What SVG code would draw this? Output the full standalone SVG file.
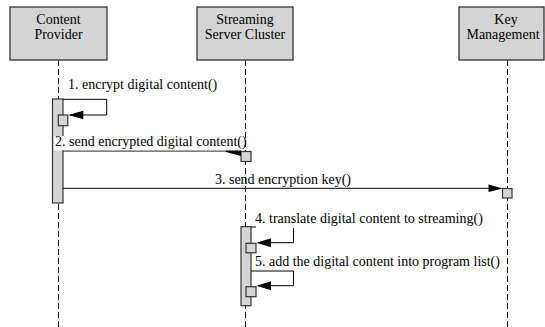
<svg xmlns="http://www.w3.org/2000/svg" width="545" height="327" viewBox="0 0 545 327">
<rect width="545" height="327" fill="#fff"/>
<g id="lifelines" stroke="#111" stroke-width="1" stroke-dasharray="6,3" fill="none">
<line x1="58.5" y1="60" x2="58.5" y2="327"/>
<line x1="245.5" y1="60" x2="245.5" y2="327"/>
<line x1="507.5" y1="60" x2="507.5" y2="327"/>
</g>
<g id="content-provider">
<rect x="10" y="7" width="97" height="53" fill="#d4d4d4" stroke="#333" stroke-width="1.3"/>
<text x="58.5" y="23.5" text-anchor="middle" font-family="Times New Roman, Liberation Serif, serif" font-size="14px">Content</text>
<text x="58.5" y="38.5" text-anchor="middle" font-family="Times New Roman, Liberation Serif, serif" font-size="14px">Provider</text>
</g>
<g id="streaming-server-cluster">
<rect x="197" y="7" width="96" height="53" fill="#d4d4d4" stroke="#333" stroke-width="1.3"/>
<text x="245" y="23.5" text-anchor="middle" font-family="Times New Roman, Liberation Serif, serif" font-size="14px">Streaming</text>
<text x="245" y="38.5" text-anchor="middle" font-family="Times New Roman, Liberation Serif, serif" font-size="14px">Server Cluster</text>
</g>
<g id="key-management">
<rect x="459" y="7" width="85" height="53" fill="#d4d4d4" stroke="#333" stroke-width="1.3"/>
<text x="506" y="23.5" text-anchor="middle" font-family="Times New Roman, Liberation Serif, serif" font-size="14px">Key</text>
<text x="503" y="38.5" text-anchor="middle" font-family="Times New Roman, Liberation Serif, serif" font-size="14px">Management</text>
</g>
<g id="activations" fill="#d4d4d4" stroke="#333" stroke-width="1.2">
<rect x="52.5" y="99" width="10.5" height="104"/>
<rect x="58.3" y="115" width="9.5" height="10.7"/>
<rect x="241" y="151.5" width="10" height="10"/>
<rect x="502.5" y="188.5" width="9.5" height="9.5"/>
<rect x="241" y="226.7" width="10" height="79"/>
<rect x="246" y="243.3" width="10" height="9.5"/>
<rect x="246" y="286.7" width="10" height="10"/>
</g>
<g id="connectors">
<g stroke="#000" stroke-width="1" fill="none">
<polyline points="63,99.3 106.7,99.3 106.7,115 70,115"/>
<line x1="63" y1="151" x2="241" y2="151"/>
<line x1="63" y1="188.3" x2="490" y2="188.3"/>
<line x1="251" y1="227" x2="256" y2="227"/>
<polyline points="293.5,228 293.5,242.7 258,242.7"/>
<polyline points="251,271 293.5,271 293.5,285.7 258,285.7"/>
</g>
<g fill="#000">
<polygon points="68.3,115 83.3,110.7 83.3,119.3"/>
<polygon points="226,150.5 241,150.5 241,156 226,152"/>
<polygon points="502.5,188.5 488.5,184.5 488.5,192"/>
<polygon points="256.5,242.7 271,238.3 271,247.3"/>
<polygon points="256.5,285.7 271,281.3 271,290.3"/>
</g>
</g>
<g id="labels">
<rect x="54" y="136" width="186" height="14.3" fill="#fff"/>
<text x="68" y="89.3" font-family="Times New Roman, Liberation Serif, serif" font-size="14px">1. encrypt digital content()</text>
<text x="55" y="146" font-family="Times New Roman, Liberation Serif, serif" font-size="14px">2. send encrypted digital content()</text>
<text x="283" y="184" text-anchor="middle" font-family="Times New Roman, Liberation Serif, serif" font-size="14px">3. send encryption key()</text>
<text x="255" y="223.3" font-family="Times New Roman, Liberation Serif, serif" font-size="14px">4. translate digital content to streaming()</text>
<text x="255" y="266" font-family="Times New Roman, Liberation Serif, serif" font-size="14px">5. add the digital content into program list()</text>
</g>
</svg>
